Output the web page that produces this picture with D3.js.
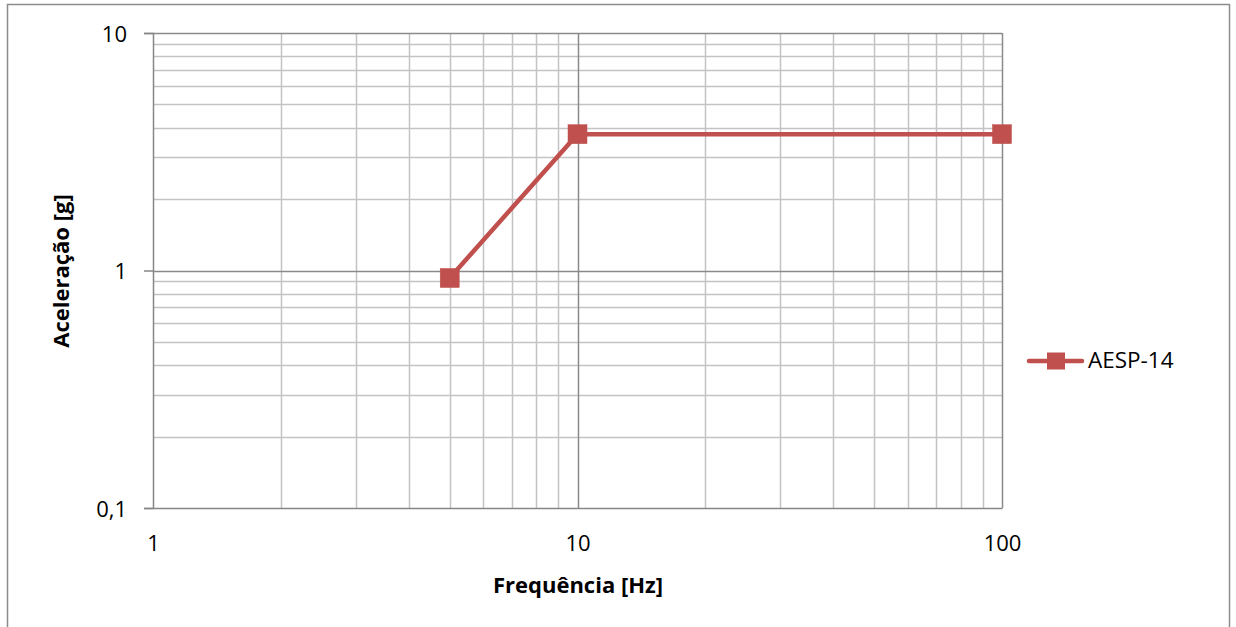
<!DOCTYPE html>
<html><head><meta charset="utf-8">
<script src="https://cdn.jsdelivr.net/npm/d3@7"></script>
<style>
html,body{margin:0;padding:0;background:#fff;}
svg{display:block;font-family:"Open Sans",Calibri,sans-serif;}
</style></head>
<body><svg id="c" width="1236" height="627"></svg>
<script>
const seriesName = "AESP-14";
const freq = [5, 10, 100];
const accel = [0.93, 3.75, 3.75];
const xTickValues = [1, 10, 100];
const xTickLabels = ["1", "10", "100"];
const yTickValues = [0.1, 1, 10];
const yTickLabels = ["0,1", "1", "10"];
const xTitle = "Frequência [Hz]";
const yTitle = "Aceleração [g]";

const svg = d3.select("#c");
const m = {l:153, t:33, r:1002, b:508};

svg.append("rect").attr("x",7.5).attr("y",4.5).attr("width",1222).attr("height",640)
  .attr("fill","#fff").attr("stroke","#8c8c8c").attr("stroke-width",1.5);

const x = d3.scaleLog().domain([1,100]).range([m.l, m.r]);
const y = d3.scaleLog().domain([0.1,10]).range([m.b, m.t]);

const g = svg.append("g");
const minorX = [], minorY = [];
[1,10].forEach(d=>{for(let k=2;k<=9;k++) minorX.push(d*k);});
[0.1,1].forEach(d=>{for(let k=2;k<=9;k++) minorY.push(d*k);});
g.selectAll(".mx").data(minorX).join("line")
  .attr("x1",d=>Math.round(x(d))+0.5).attr("x2",d=>Math.round(x(d))+0.5)
  .attr("y1",m.t).attr("y2",m.b).attr("stroke","#c3c3c3").attr("stroke-width",1.5);
g.selectAll(".my").data(minorY).join("line")
  .attr("y1",d=>Math.round(y(d))+0.5).attr("y2",d=>Math.round(y(d))+0.5)
  .attr("x1",m.l).attr("x2",m.r).attr("stroke","#c3c3c3").attr("stroke-width",1.5);
g.selectAll(".Mx").data([10,100]).join("line")
  .attr("x1",d=>Math.round(x(d))+0.5).attr("x2",d=>Math.round(x(d))+0.5)
  .attr("y1",m.t).attr("y2",m.b).attr("stroke","#8a8a8a").attr("stroke-width",1.5);
g.selectAll(".My").data([1,10]).join("line")
  .attr("y1",d=>Math.round(y(d))+0.5).attr("y2",d=>Math.round(y(d))+0.5)
  .attr("x1",m.l).attr("x2",m.r).attr("stroke","#8a8a8a").attr("stroke-width",1.5);

const yAxis = d3.axisLeft(y).tickValues(yTickValues).tickSize(9)
  .tickFormat((d,i)=>yTickLabels[i]).tickPadding(17);
const ya = svg.append("g").attr("transform",`translate(${m.l},0)`).call(yAxis);
ya.select(".domain").attr("stroke","#868686").attr("stroke-width",1.5);
ya.selectAll(".tick line").attr("stroke","#868686").attr("stroke-width",1.5);
ya.selectAll("text").attr("font-size",22).attr("fill","#000").attr("dy","0.38em")
  .attr("font-family","'Open Sans',sans-serif");

const xAxis = d3.axisBottom(x).tickValues(xTickValues).tickSize(0)
  .tickFormat((d,i)=>xTickLabels[i]).tickPadding(27);
const xa = svg.append("g").attr("transform",`translate(0,${m.b})`).call(xAxis);
xa.select(".domain").attr("stroke","#868686").attr("stroke-width",1.5);
xa.selectAll("text").attr("font-size",22).attr("fill","#000").attr("font-family","'Open Sans',sans-serif");

svg.append("text").attr("x",578).attr("y",593).attr("text-anchor","middle")
  .attr("font-size",22).attr("font-weight","bold").attr("fill","#000").text(xTitle);
svg.append("text").attr("transform","translate(69,271) rotate(-90)").attr("text-anchor","middle")
  .attr("font-size",22).attr("font-weight","bold").attr("fill","#000").text(yTitle);

const color = "#C0504D";
const pts = freq.map((f,i)=>[f,accel[i]]);
svg.append("path").datum(pts)
  .attr("d", d3.line().x(d=>x(d[0])).y(d=>y(d[1])))
  .attr("fill","none").attr("stroke",color).attr("stroke-width",4.5).attr("stroke-linejoin","round");
const ms = 19;
svg.selectAll(".pt").data(pts).join("rect")
  .attr("x",d=>x(d[0])-ms/2).attr("y",d=>y(d[1])-ms/2)
  .attr("width",ms).attr("height",ms).attr("fill",color).attr("stroke",color).attr("stroke-width",0.5);

const ly = 361;
svg.append("line").attr("x1",1029).attr("x2",1082).attr("y1",ly).attr("y2",ly)
  .attr("stroke",color).attr("stroke-width",4.5).attr("stroke-linecap","round");
svg.append("rect").attr("x",1047).attr("y",ly-8.5).attr("width",18).attr("height",17).attr("fill",color);
svg.append("text").attr("x",1088).attr("y",368).attr("font-size",22.5).attr("fill","#000").text(seriesName);
</script></body></html>
